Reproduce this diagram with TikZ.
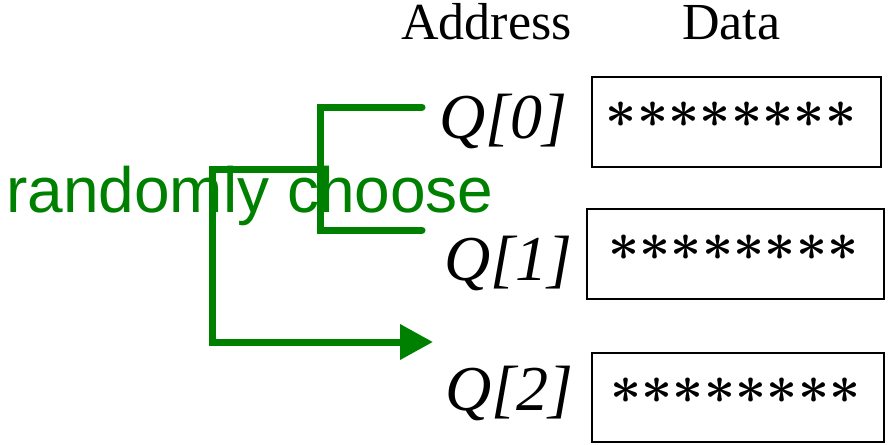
\documentclass[tikz,border=0pt]{standalone}
\usepackage{fontspec}
\setmainfont{Liberation Serif}
\newfontfamily\labelsans{Liberation Sans}
\usetikzlibrary{arrows.meta}
\definecolor{pickgreen}{RGB}{0,128,0}
% scalable bold asterisk from the math symbol font
\DeclareFontShape{OMS}{cmsy}{m}{n}{<->cmsy10}{}
\DeclareFontShape{OMS}{cmsy}{b}{n}{<->cmbsy10}{}
\DeclareSymbolFont{boldsym}{OMS}{cmsy}{b}{n}
\DeclareMathSymbol{\bast}{\mathord}{boldsym}{"03}
% one row of eight masked data symbols
\newcommand\gp{\kern0.3pt}
\newcommand\starrow{$\bast\gp\bast\gp\bast\gp\bast\gp\bast\gp\bast\gp\bast\gp\bast$}
\begin{document}
\begin{tikzpicture}[x=1pt,y=-1pt,
  header/.style={anchor=base west,inner sep=0pt,font=\fontsize{52}{60}\selectfont},
  addr/.style={anchor=base west,inner sep=0pt,font=\fontsize{64}{72}\selectfont\itshape},
  stars/.style={anchor=center,inner sep=0pt,font=\fontsize{54}{60}\selectfont},
  databox/.style={draw=black,line width=1.6pt,inner sep=0pt},
  choice/.style={draw=pickgreen,line width=7pt},
  note/.style={anchor=base west,inner sep=0pt,text=pickgreen,font=\labelsans\fontsize{64}{72}\selectfont}]
\useasboundingbox (0,0) rectangle (890,444);

% column headers
\node[header] (haddr) at (401,40) {Address};
\node[header] (hdata) at (682,40) {Data};

% address labels
\node[addr] (q0) at (439,138) {Q[0]};
\node[addr] (q1) at (444,280) {Q[1]};
\node[addr] (q2) at (445,410) {Q[2]};

% data cells
\node[databox,minimum width=289pt,minimum height=90pt] (d0) at (736.5,122) {};
\node[databox,minimum width=297pt,minimum height=90pt] (d1) at (735.5,254) {};
\node[databox,minimum width=292pt,minimum height=89pt] (d2) at (738,397.5) {};
\node[stars] (s0) at (731,115) {\starrow};
\node[stars] (s1) at (733.5,248) {\starrow};
\node[stars] (s2) at (735.5,391) {\starrow};

% random selection
\node[note] (pick) at (6,212) {randomly choose};

\coordinate (e0) at (422,107);
\coordinate (e1) at (422,230);
\coordinate (mid) at (320,169);
\coordinate (tip) at (433,342);

\draw[choice,line cap=round] (e0) -- (320,107) -- (320,230) -- (e1);
\draw[choice,-{Triangle[length=33pt,width=34pt]}] (mid) -- (212,169) -- (212,342) -- (tip);
\end{tikzpicture}
\end{document}
